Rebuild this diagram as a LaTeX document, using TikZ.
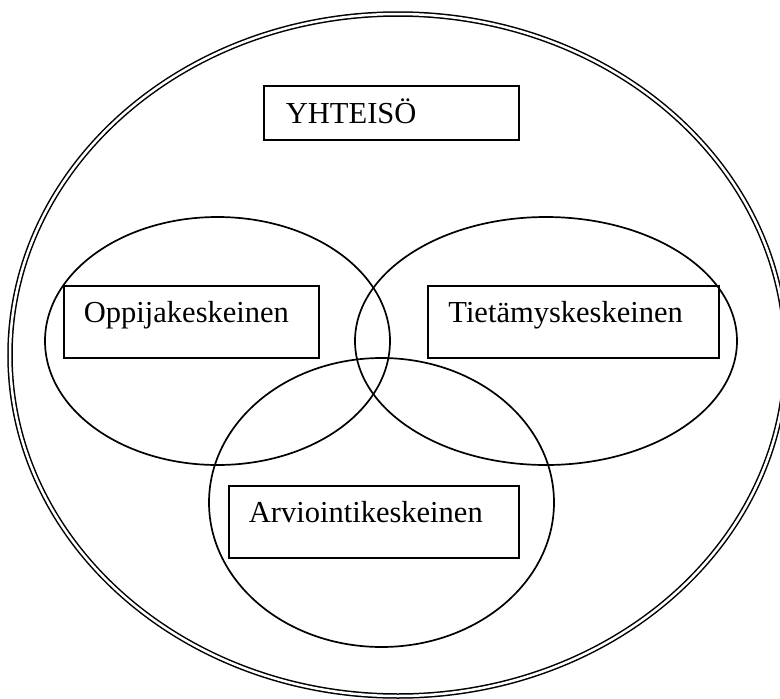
\documentclass[tikz,border=0pt]{standalone}
\usepackage{fontspec}
\setmainfont{Liberation Serif}
\begin{document}
\begin{tikzpicture}[x=1pt,y=-1pt,
  ring/.style={draw=black, line width=1.7pt},
  outerring/.style={draw=black, line width=1.5pt, double=white, double distance=2.5pt},
  labelbox/.style={draw=black, line width=1.9pt, anchor=north west, inner xsep=20pt,
    inner ysep=0pt, align=left, text depth=35pt, text height=37pt,
    font=\fontsize{30.5}{36}\selectfont}]
  % canvas
  \fill[white] (0,0) rectangle (780,699);
  \useasboundingbox (0,0) rectangle (780,699);

  % community: the enclosing double ring
  \draw[outerring] (398,355) ellipse [x radius=388pt, y radius=341pt];

  % the three overlapping perspectives
  \draw[ring] (217.5,341) ellipse [x radius=172.5pt, y radius=124pt];
  \draw[ring] (546,341) ellipse [x radius=191pt, y radius=124pt];
  \draw[ring] (381.5,502.5) ellipse [x radius=172.5pt, y radius=144.5pt];

  % labels
  \node[labelbox, text width=211pt, inner xsep=22pt, text height=38pt, text depth=16pt]
    (yhteiso) at (263,85) {YHTEISÖ};
  \node[labelbox, text width=215pt] (oppija) at (63,285) {Oppijakeskeinen};
  \node[labelbox, text width=250pt, inner xsep=20.5pt] (tietamys) at (427,285) {Tietämyskeskeinen};
  \node[labelbox, text width=250pt] (arviointi) at (228,485) {Arviointikeskeinen};
\end{tikzpicture}
\end{document}
